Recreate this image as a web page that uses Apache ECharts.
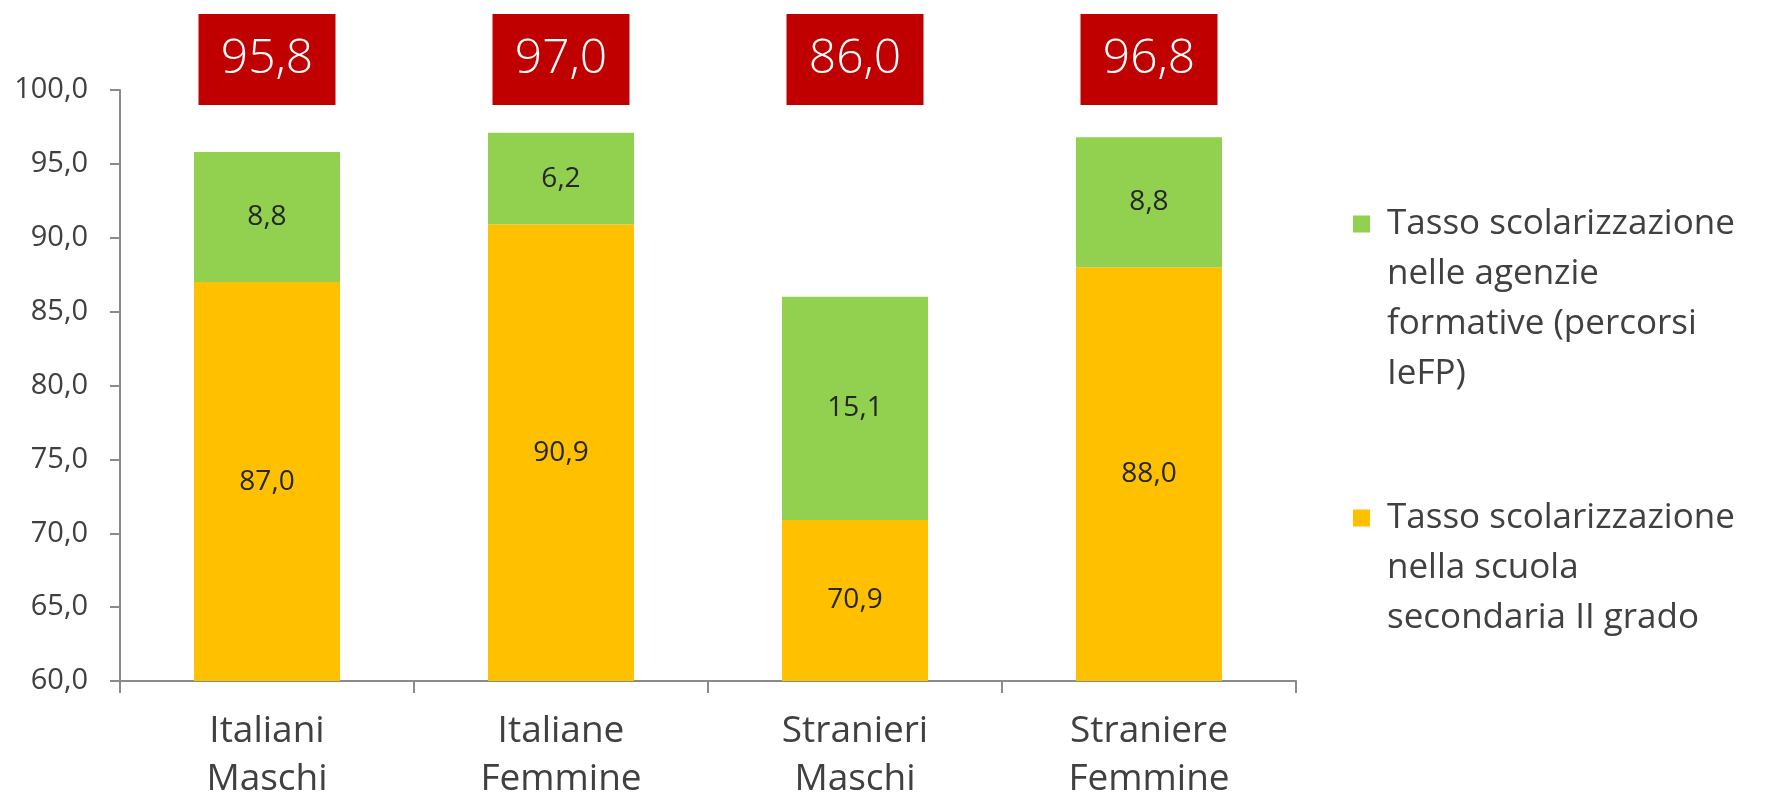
<!DOCTYPE html>
<html>
<head>
<meta charset="utf-8">
<script src="https://cdn.jsdelivr.net/npm/echarts@6/dist/echarts.min.js"></script>
<style>
  html, body { margin: 0; padding: 0; background: #ffffff; }
  #chart { width: 1773px; height: 792px; }
</style>
</head>
<body>
<div id="chart"></div>
<script>
// ---- data ----
const categories = ['Italiani\nMaschi', 'Italiane\nFemmine', 'Stranieri\nMaschi', 'Straniere\nFemmine'];
const scuolaSecondaria = [87.0, 90.9, 70.9, 88.0];
const agenzieFormative = [8.8, 6.2, 15.1, 8.8];
const totali = ['95,8', '97,0', '86,0', '96,8'];
const nameAgenzie = 'Tasso scolarizzazione\nnelle agenzie\nformative (percorsi\nIeFP)';
const nameScuola = 'Tasso scolarizzazione\nnella scuola\nsecondaria II grado';
const yMin = 60, yMax = 100, yStep = 5;

const fmt = v => Number(v).toFixed(1).replace('.', ',');
// pad with empty lines above so the legend square lines up with the first text line
const padTop = name => '\n'.repeat(name.split('\n').length - 1) + name;
const FONT = 'Open Sans';
const TXT = '#404040';
const AX = '#8a8a8a';

const chart = echarts.init(document.getElementById('chart'), null, { renderer: 'canvas' });

const legendCommon = {
  orient: 'vertical', left: 1353, padding: 0,
  itemWidth: 17, itemHeight: 17, icon: 'rect', selectedMode: false,
  formatter: padTop,
  textStyle: { fontFamily: FONT, fontSize: 35, lineHeight: 50, color: TXT, padding: [0, 0, 0, 12] }
};

chart.setOption({
  animation: false,
  backgroundColor: '#ffffff',
  textStyle: { fontFamily: FONT },
  grid: { left: 120, right: 477, top: 90, bottom: 111, containLabel: false, outerBoundsMode: 'none' },
  legend: [
    Object.assign({ data: [nameAgenzie], top: 49 }, legendCommon),
    Object.assign({ data: [nameScuola], top: 393 }, legendCommon)
  ],
  xAxis: [
    {
      type: 'category',
      data: categories,
      position: 'bottom',
      axisLine: { show: true, lineStyle: { color: AX, width: 2 } },
      axisTick: { show: true, length: 12, alignWithLabel: false, lineStyle: { color: AX, width: 2 } },
      axisLabel: { interval: 0, margin: 26, color: TXT, fontFamily: FONT, fontSize: 37, lineHeight: 48 },
      splitLine: { show: false }
    },
    {
      type: 'category',
      data: totali,
      position: 'top',
      axisLine: { show: false },
      axisTick: { show: false },
      axisLabel: {
        interval: 0, margin: -15, color: '#ffffff', fontFamily: FONT, fontSize: 48, fontWeight: 300,
        backgroundColor: '#C00000', width: 137, height: 91, lineHeight: 91, align: 'center'
      },
      splitLine: { show: false }
    }
  ],
  yAxis: {
    type: 'value',
    min: yMin, max: yMax, interval: yStep,
    axisLine: { show: true, lineStyle: { color: AX, width: 2 } },
    axisTick: { show: true, length: 10, inside: false, lineStyle: { color: AX, width: 2 } },
    axisLabel: { margin: 32, color: TXT, fontFamily: FONT, fontSize: 29, formatter: fmt },
    splitLine: { show: false }
  },
  series: [
    {
      name: nameScuola,
      type: 'bar',
      stack: 'tot',
      data: scuolaSecondaria,
      barWidth: 146,
      itemStyle: { color: '#FFC000' },
      label: { show: true, position: 'inside', color: '#262626', fontFamily: FONT, fontSize: 28, formatter: p => fmt(p.value) }
    },
    {
      name: nameAgenzie,
      type: 'bar',
      stack: 'tot',
      data: agenzieFormative,
      barWidth: 146,
      itemStyle: { color: '#92D050' },
      label: { show: true, position: 'inside', color: '#262626', fontFamily: FONT, fontSize: 28, formatter: p => fmt(p.value) }
    }
  ]
});
</script>
</body>
</html>
